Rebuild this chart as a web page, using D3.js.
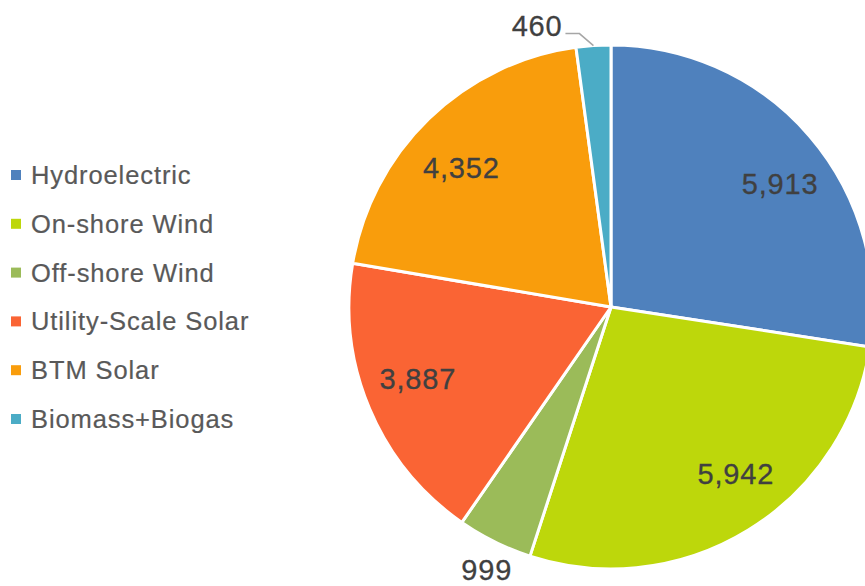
<!DOCTYPE html>
<html>
<head>
<meta charset="utf-8">
<script src="https://cdn.jsdelivr.net/npm/d3@7/dist/d3.min.js"></script>
<style>
  html, body { margin: 0; padding: 0; background: #ffffff; }
  svg { display: block; }
  text { font-family: "Liberation Sans", Arial, sans-serif; }
</style>
</head>
<body>
<svg id="chart" width="865" height="586"></svg>
<script>
// Renewable generation by source
const categories = ["Hydroelectric", "On-shore Wind", "Off-shore Wind", "Utility-Scale Solar", "BTM Solar", "Biomass+Biogas"];
const values = [5913, 5942, 999, 3887, 4352, 460];
const colors = ["#4F81BD", "#BDD70B", "#9BBB59", "#FA6434", "#F99D0C", "#4BACC6"];

// Label layout: radius factor and small pixel nudge per slice
const labelLayout = [
  { r: 0.8,  dx: 10, dy: 13 },
  { r: 0.8,  dx: 15, dy: -12 },
  { r: 1.12, dx: 6,  dy: 0 },
  { r: 0.8,  dx: 0,  dy: -10 },
  { r: 0.8,  dx: -4, dy: 11 },
  { r: 1.0,  dx: 0,  dy: 0, leader: true }
];

const svg = d3.select("#chart");
const cx = 611, cy = 307, radius = 262;

const data = categories.map((c, i) => ({ name: c, value: values[i], color: colors[i], layout: labelLayout[i] }));

const pie = d3.pie().value(d => d.value).sort(null);
const arc = d3.arc().innerRadius(0).outerRadius(radius);
const arcs = pie(data);

const g = svg.append("g").attr("transform", `translate(${cx},${cy})`);

g.selectAll("path.slice")
  .data(arcs)
  .join("path")
  .attr("class", "slice")
  .attr("d", arc)
  .attr("fill", d => d.data.color)
  .attr("stroke", "#ffffff")
  .attr("stroke-width", 3)
  .attr("stroke-linejoin", "round");

const fmt = d3.format(",");
const labelSize = 29;

function valueLabel(x, y, anchor, v) {
  g.append("text")
    .attr("x", x)
    .attr("y", y + labelSize * 0.36)
    .attr("text-anchor", anchor)
    .attr("font-size", labelSize)
    .attr("letter-spacing", 0.8)
    .attr("fill", "#404040")
    .attr("stroke", "#404040")
    .attr("stroke-width", 0.3)
    .text(fmt(v));
}

arcs.forEach(a => {
  const mid = (a.startAngle + a.endAngle) / 2;
  const L = a.data.layout;
  if (L.leader) {
    // Leader line from the slice rim out to the label
    const px = Math.sin(mid) * radius, py = -Math.cos(mid) * radius;
    const ex = px - 14, ey = py - 12;
    const tx = ex - 14;
    g.append("polyline")
      .attr("points", `${px},${py} ${ex},${ey} ${tx},${ey}`)
      .attr("fill", "none")
      .attr("stroke", "#A6A6A6")
      .attr("stroke-width", 1.5);
    valueLabel(tx - 3, ey - 8, "end", a.data.value);
  } else {
    const r = radius * L.r;
    valueLabel(Math.sin(mid) * r + L.dx, -Math.cos(mid) * r + L.dy, "middle", a.data.value);
  }
});

// Legend
const legendY = d3.scaleLinear().domain([0, categories.length - 1]).range([175, 419]);
const legend = svg.append("g");
const items = legend.selectAll("g.item")
  .data(data)
  .join("g")
  .attr("class", "item")
  .attr("transform", (d, i) => `translate(11,${legendY(i)})`);

items.append("rect")
  .attr("x", 0).attr("y", -5)
  .attr("width", 10).attr("height", 10)
  .attr("fill", d => d.color);

items.append("text")
  .attr("x", 20)
  .attr("y", 25 * 0.36)
  .attr("font-size", 25.5)
  .attr("letter-spacing", 0.9)
  .attr("fill", "#595959")
  .attr("stroke", "#595959")
  .attr("stroke-width", 0.2)
  .text(d => d.name);
</script>
</body>
</html>
